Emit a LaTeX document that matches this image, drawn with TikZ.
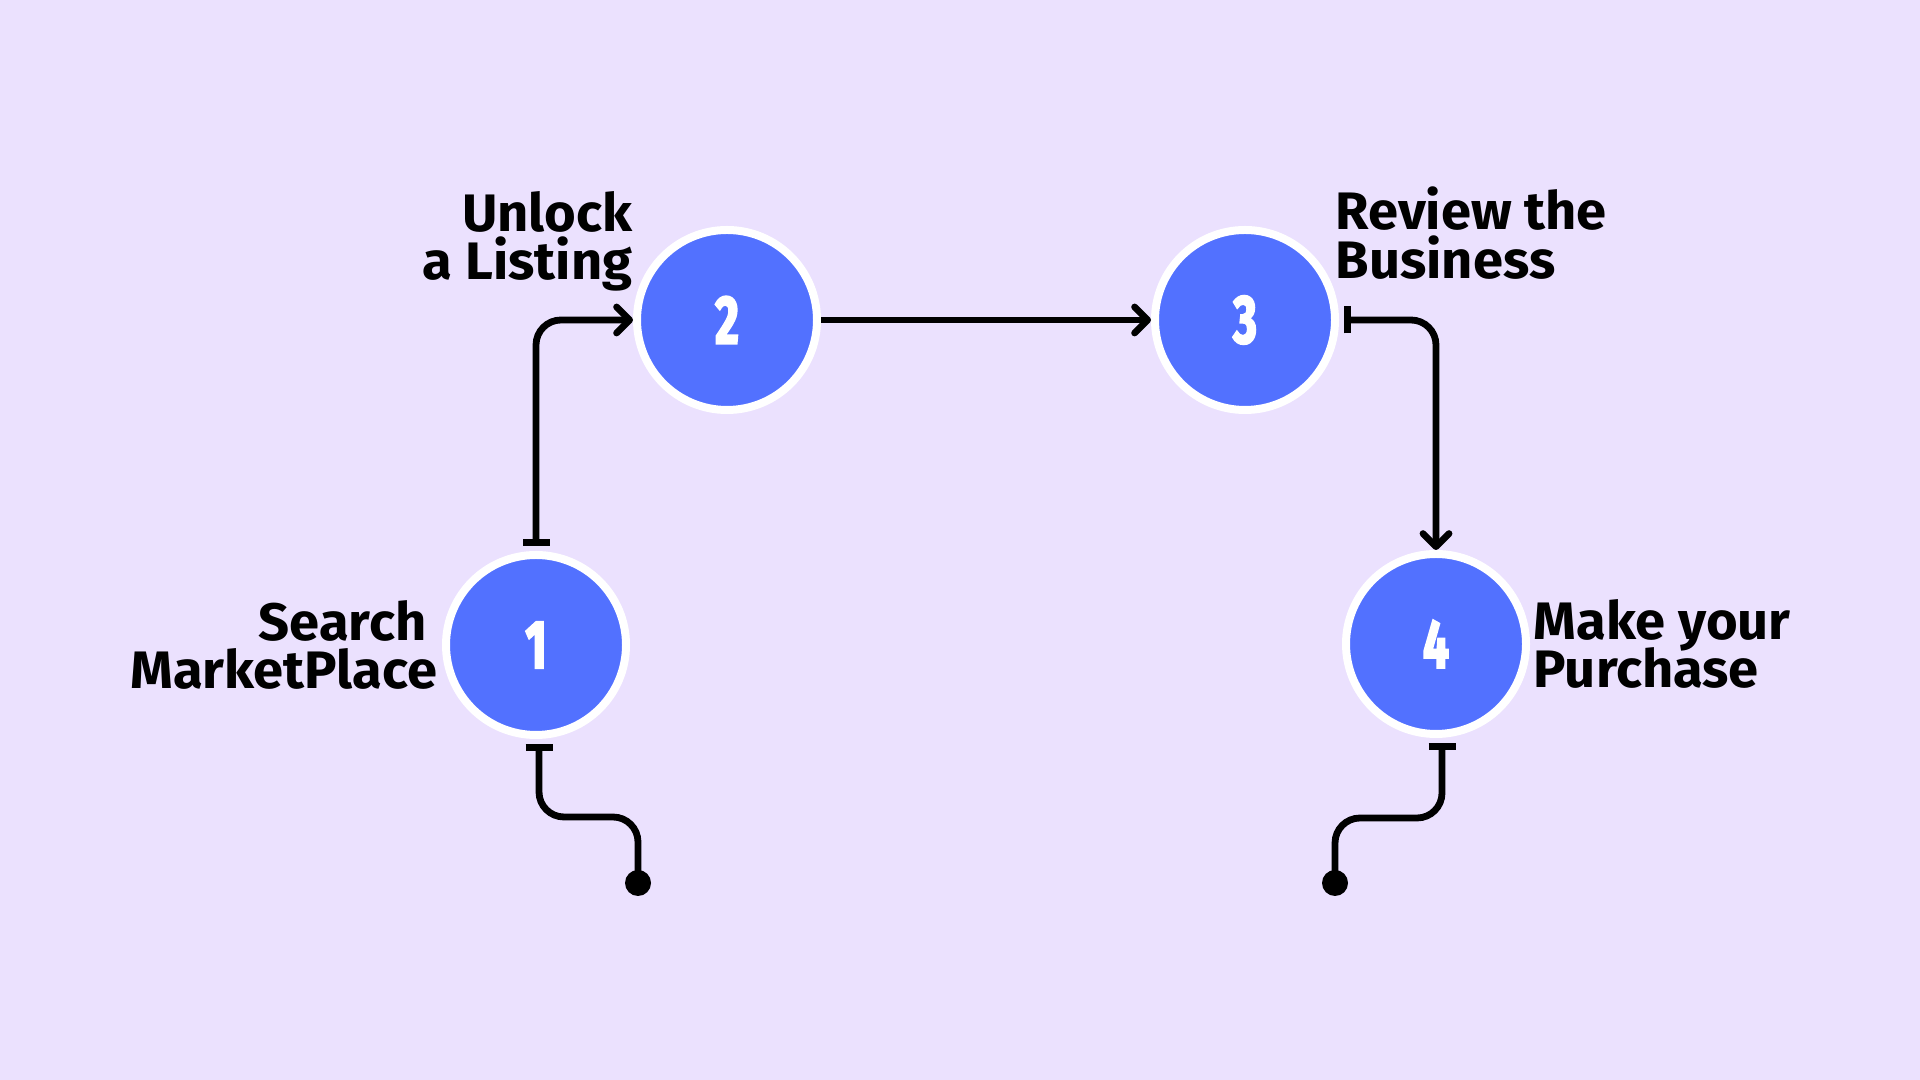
\documentclass[tikz,border=0pt]{standalone}
\usepackage{fontspec}
\setmainfont{Fira Sans}[FakeStretch=1.03]
\newfontfamily\digitfont{Fira Sans}[FakeStretch=0.66, FakeBold=3]
\usetikzlibrary{positioning, calc, arrows.meta}
\definecolor{bg}{HTML}{EBE1FE}
\definecolor{stepblue}{HTML}{5271FF}

\begin{document}
\begin{tikzpicture}[
    num-circle/.style={circle, fill=stepblue, draw=white, line width=0.08cm,
      minimum size=1.8cm, inner sep=0, text=white,
      font=\digitfont\fontsize{19.5}{19.5}\selectfont\bfseries},
    step-text/.style={inner sep=0,
      font={\fontsize{15}{13.8}\selectfont\bfseries\lineskiplimit-20pt\relax}},
    link/.style={line width=0.068cm, rounded corners=0.25cm},
    barb/.style={arrows={-Straight Barb[length=0.13cm, width=0.26cm, round]}},
    tee-barb/.style={arrows={Bar[width=0.27cm]-Straight Barb[length=0.13cm, width=0.26cm, round]}},
    tee/.style={arrows={Bar[width=0.27cm]-}}
  ]
    \fill[bg] (0,0) rectangle (19.2,10.8);

    \node[num-circle] (step-1) at (5.36,4.35) {1};
    \node[num-circle] (step-2) at (7.27,7.60) {2};
    \node[num-circle, right = 3.30 of step-2] (step-3) {3};
    \node[num-circle] (step-4) at (14.36,4.36) {4};

    \node[step-text, align=right, left = 0.04 of step-1.west]
      (step-1-t) {Search\hspace*{0.11cm}\\MarketPlace};
    \node[step-text, align=right, above left = 0.28 and 0 of step-2.west]
      (step-2-t) {Unlock\\a Listing};
    \node[step-text, align=left, above right = 0.40 and -0.04 of step-3.east]
      (step-3-t) {Review the\\Business};
    \node[step-text, align=left, right = 0.03 of step-4.east]
      (step-4-t) {Make your\\Purchase};

    \draw[link, tee-barb] ($(step-1.north)+(0,0.05)$) |- (step-2.west);
    \draw[link, barb] (step-2.east) -- (step-3.west);
    \draw[link, tee-barb] ($(step-3.east)+(0.05,0)$) -| (step-4.north);

    \coordinate (end-1) at (6.38,1.97);
    \coordinate (end-4) at (13.35,1.97);
    \draw[link, tee] ($(step-1.south)+(0.03,-0.05)$) -- ++(0,-0.73) -| (end-1);
    \draw[link, tee] ($(step-4.south)+(0.06,-0.05)$) -- ++(0,-0.75) -| (end-4);
    \fill (end-1) circle (0.13);
    \fill (end-4) circle (0.13);
  \end{tikzpicture}
\end{document}
